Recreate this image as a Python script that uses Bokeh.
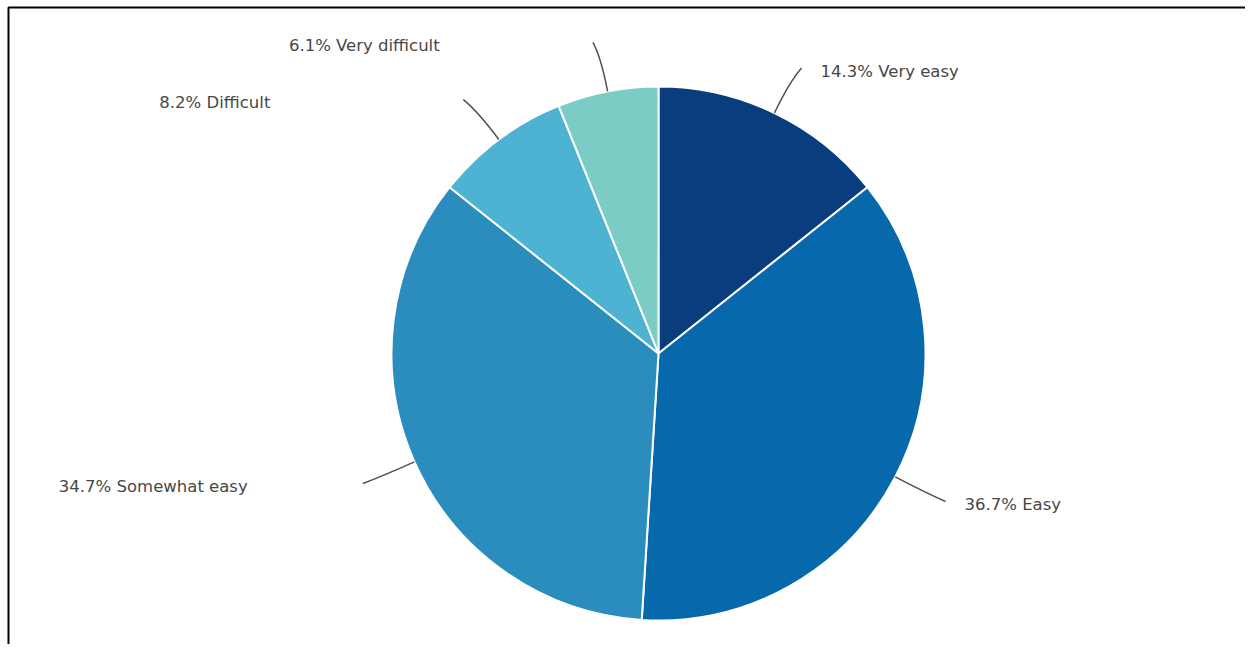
import math
from bokeh.plotting import figure
from bokeh.models import Range1d, BoxAnnotation, ColumnDataSource
from bokeh.core.properties import value
from bokeh.embed import file_html
from bokeh.resources import INLINE

# ---- data ----
categories = ["Very easy", "Easy", "Somewhat easy", "Difficult", "Very difficult"]
percents = [14.3, 36.7, 34.7, 8.2, 6.1]
colors = ["#0a3d7e", "#0868ac", "#2b8cbe", "#4eb3d3", "#7bccc4"]

# ---- layout (data units == pixels) ----
W, H = 1245, 644
CX, CY = 658, 291          # pie centre in data coords
R = 267                    # pie radius
R_CTRL = 302               # connector control radius
R_END = 318                # connector end radius

p = figure(width=W, height=H, output_backend="svg", toolbar_location=None,
           x_range=Range1d(0, W), y_range=Range1d(0, H), min_border=0,
           background_fill_color="white", border_fill_color="white")
p.axis.visible = False
p.grid.visible = False
p.outline_line_color = None

total = sum(percents)
cum = [0.0]
for v in percents:
    cum.append(cum[-1] + v / total)

starts = [math.pi / 2 - 2 * math.pi * c for c in cum[:-1]]
ends = [math.pi / 2 - 2 * math.pi * c for c in cum[1:]]

src = ColumnDataSource(dict(start=starts, end=ends, color=colors, cat=categories))
p.wedge(x=CX, y=CY, radius=R, start_angle="start", end_angle="end", direction="clock",
        fill_color="color", line_color="white", line_width=2, source=src)

# connectors & labels
x0s, y0s, cxs, cys, x1s, y1s = [], [], [], [], [], []
lx, ly, txt = [], [], []
for i, cat in enumerate(categories):
    mid = (cum[i] + cum[i + 1]) / 2 * 2 * math.pi  # clockwise from top
    s, c = math.sin(mid), math.cos(mid)
    side = 1 if s >= 0 else -1
    x0s.append(CX + R * s); y0s.append(CY + R * c)
    cxs.append(CX + R_CTRL * s); cys.append(CY + R_CTRL * c)
    ex = CX + R_END * s + 5 * side
    ey = CY + R_END * c - 1
    x1s.append(ex); y1s.append(ey)
    lx.append(ex + 19 if side > 0 else ex - 304)
    ly.append(ey - 3)
    txt.append(f"{percents[i]:.1f}% {cat}")

p.quadratic(x0=x0s, y0=y0s, x1=x1s, y1=y1s, cx=cxs, cy=cys,
            line_color="#505050", line_width=1.5)

p.text(x=lx, y=ly, text=txt, text_align="left", text_baseline="middle",
       text_font=value("DejaVu Sans"), text_font_size="16.5px",
       text_color="#474747")

# frame border (left and top visible, rest off-page)
p.add_layout(BoxAnnotation(left=8, top=H - 7, right=W + 20, bottom=-20,
                           fill_color=None, fill_alpha=0, line_color="black",
                           line_alpha=1.0, line_width=2))

open("out.html", "w").write(file_html(p, INLINE))
